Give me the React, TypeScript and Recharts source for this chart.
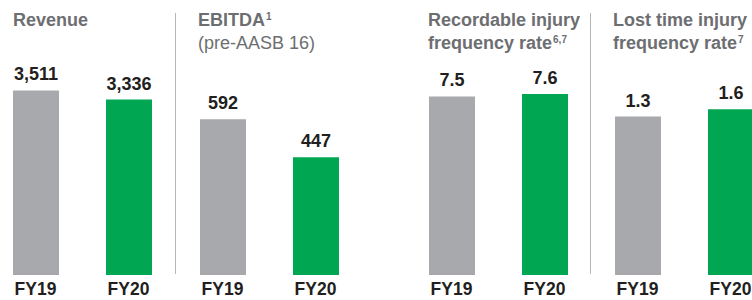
import React from "react";
import { Bar, BarChart, Cell, LabelList, XAxis, YAxis } from "recharts";

// data
const years = ["FY19", "FY20"];
const revenue = [3511, 3336];
const ebitda = [592, 447];
const recordableRate = [7.5, 7.6];
const lostTimeRate = [1.3, 1.6];

const barColours = ["#a7a9ac", "#00a651"];
const TITLE = "#6d6e71";
const DARK = "#231f20";
const FONT = '"Liberation Sans", Arial, Helvetica, sans-serif';

const PANEL_W = 186;
const CHART_H = 300;

type PanelProps = {
  values: number[];
  domain: [number, number];
  left: number;
  fmt?: (v: any) => string;
};

// one small bar chart; bars are anchored at the bottom of the value axis
const Panel = ({ values, domain, left, fmt }: PanelProps) => {
  const data = years.map((year, i) => ({ year, value: values[i] }));
  return (
    <div style={{ position: "absolute", left, top: 0 }}>
      <BarChart
        width={PANEL_W}
        height={CHART_H}
        data={data}
        margin={{ top: 0, right: 0, bottom: 0, left: 0 }}
        barSize={46}
      >
        <XAxis
          dataKey="year"
          axisLine={false}
          tickLine={false}
          height={25}
          tickMargin={2}
          interval={0}
          tick={{ fill: DARK, fontSize: 17.5, fontWeight: 700, fontFamily: FONT }}
        />
        <YAxis hide type="number" domain={domain} allowDataOverflow />
        <Bar dataKey={(d: any) => [domain[0], d.value]} isAnimationActive={false}>
          {data.map((d, i) => (
            <Cell key={d.year} fill={barColours[i]} />
          ))}
          <LabelList
            dataKey="value"
            position="top"
            offset={10}
            formatter={fmt}
            fill={DARK}
            fontSize={18}
            fontWeight={700}
            fontFamily={FONT}
          />
        </Bar>
      </BarChart>
    </div>
  );
};

const titleStyle: React.CSSProperties = {
  position: "absolute",
  top: 9,
  fontFamily: FONT,
  fontSize: 18,
  lineHeight: "23px",
  fontWeight: 700,
  color: TITLE,
  whiteSpace: "nowrap",
};

const supStyle: React.CSSProperties = {
  fontSize: 10,
  lineHeight: 0,
  verticalAlign: "baseline",
  position: "relative",
  top: -6,
  marginLeft: 1,
};

const sep = (left: number) => (
  <div
    style={{
      position: "absolute",
      left,
      top: 13,
      width: 1,
      height: 261,
      background: "#b5b7b9",
    }}
  />
);

export default function App() {
  const thousands = (v: any) => Number(v).toLocaleString("en-US");
  return (
    <div
      style={{
        position: "absolute",
        left: 0,
        top: 0,
        width: 752,
        height: 300,
        overflow: "hidden",
        background: "#fff",
      }}
    >
      <Panel values={revenue} domain={[0, 5230]} left={-11} fmt={thousands} />
      <Panel values={ebitda} domain={[0, 1045]} left={175.5} />
      <Panel values={recordableRate} domain={[0, 11.55]} left={404.5} />
      <Panel values={lostTimeRate} domain={[-5.2, 6.08]} left={590.5} />

      {sep(175)}
      {sep(590)}

      <div style={{ ...titleStyle, left: 13 }}>Revenue</div>
      <div style={{ ...titleStyle, left: 198 }}>
        EBITDA<span style={supStyle}>1</span>
        <br />
        <span style={{ fontWeight: 400 }}>(pre-AASB 16)</span>
      </div>
      <div style={{ ...titleStyle, left: 428 }}>
        Recordable injury
        <br />
        frequency rate<span style={supStyle}>6,7</span>
      </div>
      <div style={{ ...titleStyle, left: 613 }}>
        Lost time injury
        <br />
        frequency rate<span style={supStyle}>7</span>
      </div>
    </div>
  );
}
